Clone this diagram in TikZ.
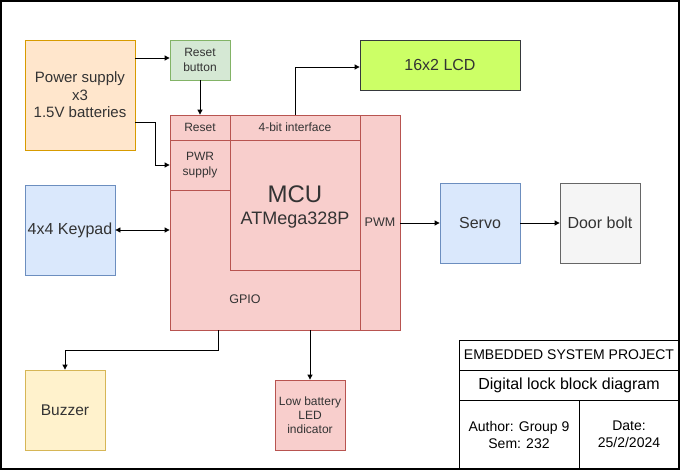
\documentclass[tikz,border=0pt]{standalone}
\usepackage{fontspec}
\setmainfont{Liberation Sans}
\usetikzlibrary{arrows.meta}
\definecolor{orF}{HTML}{FFE6CC}\definecolor{orD}{HTML}{D79B00}
\definecolor{grF}{HTML}{D5E8D4}\definecolor{grD}{HTML}{82B366}
\definecolor{rdF}{HTML}{F8CECC}\definecolor{rdD}{HTML}{B85450}
\definecolor{blF}{HTML}{DAE8FC}\definecolor{blD}{HTML}{6C8EBF}
\definecolor{ylF}{HTML}{FFF2CC}\definecolor{ylD}{HTML}{D6B656}
\definecolor{lmF}{HTML}{CCFF66}\definecolor{lmD}{HTML}{36393D}
\definecolor{gyF}{HTML}{F5F5F5}\definecolor{gyD}{HTML}{666666}
\definecolor{txt}{HTML}{333333}
\tikzset{
  blk/.style={draw, line width=0.8pt, inner sep=0pt, align=center, text=txt},
  conn/.style={line width=0.8pt, -{Triangle[length=5pt,width=5pt]}},
  lbl/.style={inner sep=0pt, align=center, text=txt},
}
\begin{document}
\begin{tikzpicture}[x=1pt,y=-1pt]
\useasboundingbox (0,0) rectangle (681,471);
\draw[line width=1.2pt] (1,1) rectangle (679,469);
% blocks
\node[blk, fill=orF, draw=orD, minimum width=110pt, minimum height=110pt, font=\fontsize{15}{17.5}\selectfont] (ps) at (80,95) {Power supply\\x3\\1.5V batteries};
\node[blk, fill=grF, draw=grD, minimum width=60pt, minimum height=40pt, font=\fontsize{12}{14.5}\selectfont] (rb) at (200,60) {Reset\\button};
% MCU
\node[blk, fill=rdF, draw=rdD, minimum width=230pt, minimum height=215pt] (mcu) at (285,222.5) {};
\node[blk, fill=rdF, draw=rdD, minimum width=60pt, minimum height=25pt, font=\fontsize{12}{14.5}\selectfont] (rst) at (200,127.5) {Reset};
\node[blk, fill=rdF, draw=rdD, minimum width=130pt, minimum height=25pt, font=\fontsize{12}{14.5}\selectfont] (fbit) at (295,127.5) {4-bit interface};
\node[blk, fill=rdF, draw=rdD, minimum width=40pt, minimum height=215pt, font=\fontsize{12.5}{14.5}\selectfont] (pwm) at (380,222.5) {PWM};
\node[blk, fill=rdF, draw=rdD, minimum width=60pt, minimum height=50pt, font=\fontsize{12}{14.5}\selectfont] (pwr) at (200,165) {PWR\\supply};
\node[blk, fill=rdF, draw=rdD, minimum width=130pt, minimum height=130pt] (core) at (295,205) {};
\node[lbl, font=\fontsize{24}{28}\selectfont] (mcut) at (295,194) {MCU};
\node[lbl, font=\fontsize{18}{21}\selectfont] (atm) at (295,220) {ATMega328P};
\node[lbl, font=\fontsize{12.5}{14.5}\selectfont] (gpio) at (245,299) {GPIO};
% others
\node[blk, fill=lmF, draw=lmD, minimum width=160pt, minimum height=50pt, font=\fontsize{16}{19}\selectfont] (lcd) at (440,65) {16x2 LCD};
\node[blk, fill=blF, draw=blD, minimum width=90pt, minimum height=90pt, font=\fontsize{16}{19}\selectfont] (kp) at (70,230) {4x4 Keypad};
\node[blk, fill=blF, draw=blD, minimum width=80pt, minimum height=80pt, font=\fontsize{16}{19}\selectfont] (servo) at (480,223) {Servo};
\node[blk, fill=gyF, draw=gyD, minimum width=80pt, minimum height=80pt, font=\fontsize{16}{19}\selectfont] (door) at (600,223) {Door bolt};
\node[blk, fill=ylF, draw=ylD, minimum width=80pt, minimum height=80pt, font=\fontsize{15.5}{18}\selectfont] (buz) at (65,410) {Buzzer};
\node[blk, fill=rdF, draw=rdD, minimum width=70pt, minimum height=70pt, font=\fontsize{12}{14}\selectfont] (lb) at (310,415) {Low battery\\LED\\indicator};
% title block
\node[draw, line width=0.8pt, minimum width=220pt, minimum height=30pt, inner sep=0pt, font=\fontsize{14}{16}\selectfont] (t1) at (569,355) {EMBEDDED SYSTEM PROJECT};
\node[draw, line width=0.8pt, minimum width=220pt, minimum height=30pt, inner sep=0pt, font=\fontsize{16}{19}\selectfont] (t2) at (569,385) {Digital lock block diagram};
\node[draw, line width=0.8pt, minimum width=120pt, minimum height=69pt, inner sep=0pt, align=center, font=\fontsize{14}{17}\selectfont] (t3) at (519,434.5) {Author: Group 9\\Sem: 232};
\node[draw, line width=0.8pt, minimum width=100pt, minimum height=69pt, inner sep=0pt, align=center, font=\fontsize{14}{17}\selectfont] (t4) at (629,434.5) {Date:\\25/2/2024};
% connectors
\draw[conn] (ps.east |- 0,58) -- (rb.west |- 0,58);
\draw[conn] (rb.south) -- (rst.north);
\draw[conn] (ps.east |- 0,122) -- (155,122) -- (155,165) -- (pwr.west);
\draw[conn] (fbit.north) -- (295,67) -- (lcd.west |- 0,67);
\draw[line width=0.8pt, {Triangle[length=5pt,width=5pt]}-{Triangle[length=5pt,width=5pt]}] (kp.east) -- (mcu.west |- kp.east);
\draw[conn] (pwm.east |- servo.west) -- (servo.west);
\draw[conn] (servo.east) -- (door.west);
\draw[conn] (218,330) -- (218,350) -- (65,350) -- (buz.north);
\draw[conn] (310,330) -- (lb.north);
\end{tikzpicture}
\end{document}
